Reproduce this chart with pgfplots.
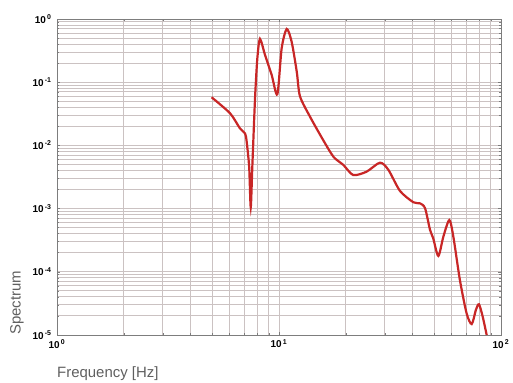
\documentclass[border=0pt]{standalone}
\usepackage{pgfplots}
\pgfplotsset{compat=1.18}
\usepackage{fontspec}
\setmainfont{Liberation Sans}
\definecolor{gridc}{RGB}{203,194,194}
\definecolor{axc}{RGB}{125,125,125}
\definecolor{curve}{RGB}{200,38,38}
\definecolor{labc}{RGB}{95,95,95}
\begin{document}
\begin{tikzpicture}
\begin{axis}[
  name=ax,
  xmode=log, ymode=log,
  scale only axis, width=444bp, height=316bp,
  xmin=1, xmax=100, ymin=1e-5, ymax=1,
  grid=both,
  major grid style={gridc, line width=1bp},
  minor grid style={gridc, line width=1bp},
  axis line style={axc, line width=0.8bp},
  tick style={axc, line width=0.6bp},
  major tick length=3bp, minor tick length=2.5bp,
  xtick={1,10,100},
  xticklabels={{10\textsuperscript{\,0}},{10\textsuperscript{\,1}},{10\textsuperscript{\,2}}},
  ytick={1e-5,1e-4,1e-3,1e-2,1e-1,1},
  yticklabels={{10\textsuperscript{\,-5}},{10\textsuperscript{\,-4}},{10\textsuperscript{\,-3}},{10\textsuperscript{\,-2}},{10\textsuperscript{\,-1}},{10\textsuperscript{\,0}}},
  tick label style={font=\fontsize{10}{11}\selectfont\bfseries, black},
  xticklabel style={yshift=-1bp},
  yticklabel style={xshift=-2bp},
]
\addplot[curve, line width=2.2bp, smooth, tension=0.45] coordinates {
(4.97,0.0577) (6.02,0.0322) (6.67,0.0186) (7.03,0.0155) (7.15,0.0115)
(7.34,0.0045) (7.46,0.00105) (7.59,0.0050) (7.8,0.0556) (7.99,0.239)
(8.21,0.483) (8.65,0.27) (9.27,0.13) (9.83,0.0644) (10.28,0.344)
(10.83,0.695) (11.4,0.437) (12.02,0.147) (12.43,0.0600) (13.8,0.0284)
(15.8,0.0122) (17.6,0.0066) (19.5,0.0049) (21.6,0.0034) (24.8,0.00384)
(28.5,0.00533) (31.1,0.0041) (35.1,0.0019) (40.3,0.00126) (43.2,0.00121)
(45.5,0.00101) (47.9,0.00046) (49.5,0.00034) (52.2,0.000178) (55,0.00036)
(58.5,0.00066) (61,0.00036) (65.3,0.000074) (70,0.000022) (73.8,0.0000149)
(77.1,0.000025) (79.6,0.0000306) (82.7,0.0000195) (86.2,0.00001)
};
\end{axis}
\node[anchor=west, inner sep=0pt, font=\fontsize{15}{17}\selectfont, labc] at ([yshift=-39bp]ax.south west) {Frequency [Hz]};
\node[rotate=90, anchor=west, inner sep=0pt, font=\fontsize{15}{17}\selectfont, labc] at ([xshift=-40bp]ax.south west) {Spectrum};
\pgfresetboundingbox
\path[use as bounding box] ([shift={(-57bp,-48bp)}]ax.south west) rectangle ([shift={(12bp,19bp)}]ax.north east);
\end{tikzpicture}
\end{document}
